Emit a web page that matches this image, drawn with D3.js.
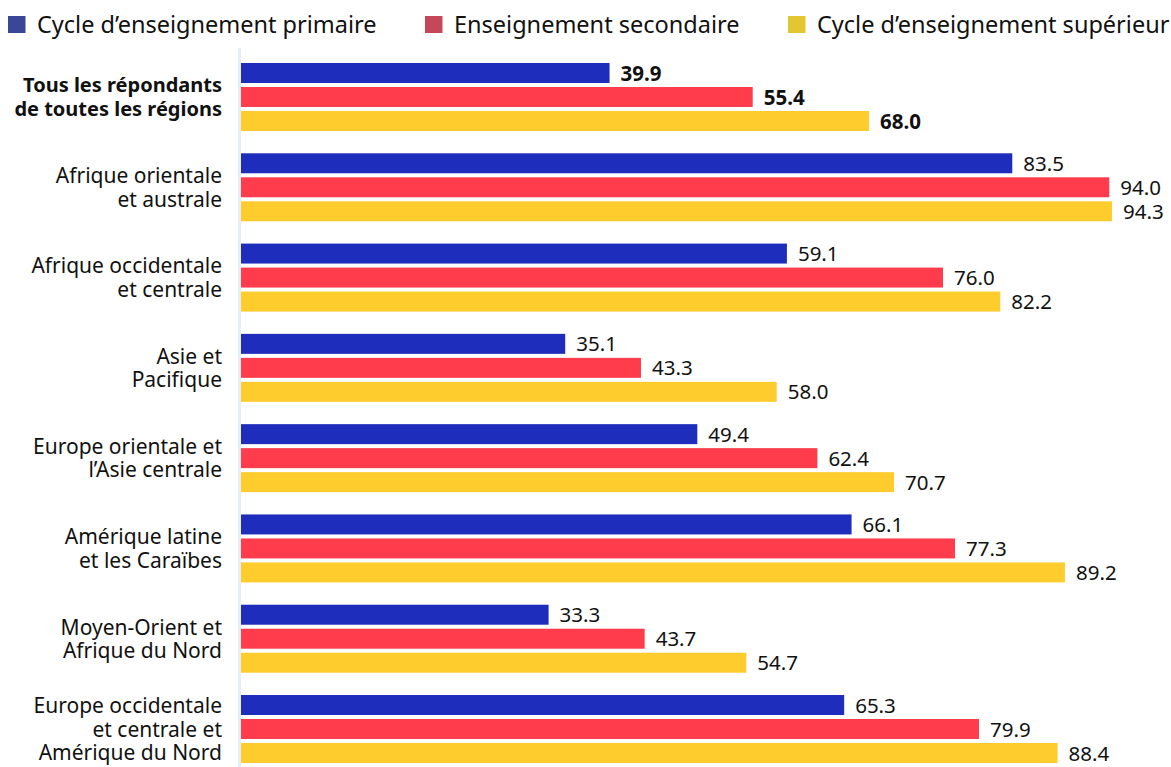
<!DOCTYPE html>
<html><head><meta charset="utf-8">
<script src="https://cdn.jsdelivr.net/npm/d3@7"></script>
<style>
html,body{margin:0;padding:0;background:#fff;}
svg{display:block;}
</style></head>
<body>
<script>
const categories = [
  ["Tous les répondants","de toutes les régions"],
  ["Afrique orientale","et australe"],
  ["Afrique occidentale","et centrale"],
  ["Asie et","Pacifique"],
  ["Europe orientale et","l’Asie centrale"],
  ["Amérique latine","et les Caraïbes"],
  ["Moyen-Orient et","Afrique du Nord"],
  ["Europe occidentale","et centrale et","Amérique du Nord"]
];
const seriesNames = ["Cycle d’enseignement primaire","Enseignement secondaire","Cycle d’enseignement supérieur"];
const primaire = [39.9, 83.5, 59.1, 35.1, 49.4, 66.1, 33.3, 65.3];
const secondaire = [55.4, 94.0, 76.0, 43.3, 62.4, 77.3, 43.7, 79.9];
const superieur = [68.0, 94.3, 82.2, 58.0, 70.7, 89.2, 54.7, 88.4];
const barColors = ["#1f2dbd","#fe3c4b","#ffcc2d"];
const legendColors = ["#3a4696","#c4485a","#e3c730"];

const W = 1171, H = 767;
const svg = d3.select("body").append("svg").attr("width", W).attr("height", H);
const series = [primaire, secondaire, superieur];

const x = d3.scaleLinear().domain([0, 100]).range([241, 241 + 923.7]);
const y0 = d3.scaleBand().domain(d3.range(categories.length)).range([63, 763]).paddingInner(0.247).paddingOuter(0);
const y1 = d3.scaleBand().domain(d3.range(3)).range([0, y0.bandwidth()]).paddingInner(0.167).paddingOuter(0);

// axis line
svg.append("line").attr("x1", 239.5).attr("x2", 239.5).attr("y1", 48).attr("y2", H)
  .attr("stroke", "#e6eef8").attr("stroke-width", 3);

const groups = svg.selectAll("g.grp").data(categories).join("g")
  .attr("transform", (d, i) => `translate(0,${y0(i)})`);

groups.each(function(cat, i) {
  const g = d3.select(this);
  series.forEach((s, k) => {
    g.append("rect").attr("x", x(0)).attr("y", y1(k))
      .attr("width", x(s[i]) - x(0)).attr("height", y1.bandwidth())
      .attr("fill", barColors[k]);
    g.append("text").attr("x", x(s[i]) + 11).attr("y", y1(k) + y1.bandwidth() / 2)
      .attr("dy", "0.37em")
      .attr("font-family", "'Noto Sans', sans-serif").attr("font-size", 20.5)
      .attr("font-weight", i === 0 ? "bold" : "normal")
      .attr("fill", "#111").text(s[i].toFixed(1));
  });
  const lh = 23.5;
  const n = cat.length;
  const cy = y0.bandwidth() / 2;
  const t = g.append("text").attr("text-anchor", "end")
    .attr("font-family", "'Noto Sans', sans-serif").attr("font-size", i === 0 ? 20 : 21)
    .attr("font-weight", i === 0 ? "bold" : "normal")
    .attr("fill", "#111");
  cat.forEach((line, j) => {
    t.append("tspan").attr("x", 222).attr("y", cy + (j - (n - 1) / 2) * lh)
      .attr("dy", "0.36em").text(line);
  });
});

// legend
const legendX = [8, 425, 788];
seriesNames.forEach((name, k) => {
  svg.append("rect").attr("x", legendX[k]).attr("y", 16).attr("width", 17.5).attr("height", 17)
    .attr("fill", legendColors[k]);
  svg.append("text").attr("x", legendX[k] + 29).attr("y", 25).attr("dy", "0.36em")
    .attr("font-family", "'Noto Sans', sans-serif").attr("font-size", 23.5)
    .attr("fill", "#111").text(name);
});
</script>
</body></html>
